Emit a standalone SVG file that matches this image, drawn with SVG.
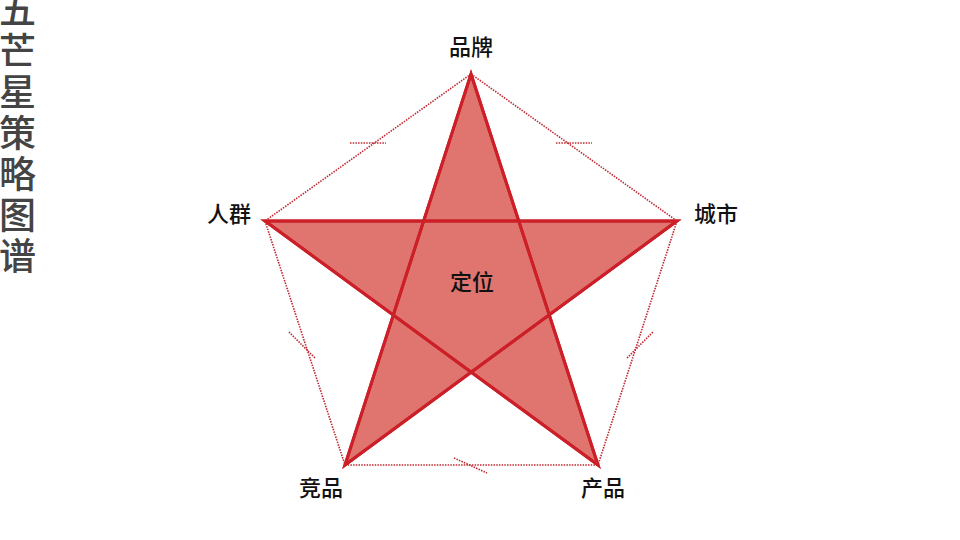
<svg xmlns="http://www.w3.org/2000/svg" width="960" height="540" viewBox="0 0 960 540">
<style>
.t{font-family:"Noto Sans CJK SC","Noto Sans",sans-serif;fill:#111;font-size:22px;font-weight:500;text-anchor:middle}
.title{font-family:"Noto Sans CJK SC","Noto Sans",sans-serif;fill:#444;font-size:37px;font-weight:500;writing-mode:vertical-rl;letter-spacing:4px}
.edge{stroke:#C0282F;stroke-width:1.6;stroke-dasharray:1.5 1.2;fill:none}
.star{fill:#E07570;stroke:#CC1F28;stroke-width:3;stroke-linejoin:miter}
</style>
<rect width="960" height="540" fill="#fff"/>
<g id="title">
<text class="title" x="17.5" y="-9">五芒星策略图谱</text>
</g>
<g id="connectors">
<path class="edge" d="M471,74 L265,221"/>
<path class="edge" d="M471,74 L677,221"/>
<path class="edge" d="M265,221 L345,465"/>
<path class="edge" d="M677,221 L598,465"/>
<path class="edge" d="M345,465 L598,465"/>
<path class="edge" d="M350,143 L386,143"/>
<path class="edge" d="M556,143 L592,143"/>
<path class="edge" d="M289,332 L315,358"/>
<path class="edge" d="M627,358 L653,332"/>
<path class="edge" d="M454,458 L487,473"/>
</g>
<g id="star">
<polygon class="star" points="471,74 598,465 265,221 677,221 345,465"/>
<path d="M471,74 L598,465 L265,221 L677,221 L345,465 Z" fill="none" stroke="#CC1F28" stroke-width="3"/>
</g>
<g id="node-brand"><text class="t" x="471" y="55">品牌</text></g>
<g id="node-people"><text class="t" x="229" y="222">人群</text></g>
<g id="node-city"><text class="t" x="716" y="222">城市</text></g>
<g id="node-competitor"><text class="t" x="321" y="496">竞品</text></g>
<g id="node-product"><text class="t" x="603" y="496">产品</text></g>
<g id="node-position"><text class="t" x="472" y="290">定位</text></g>
</svg>
